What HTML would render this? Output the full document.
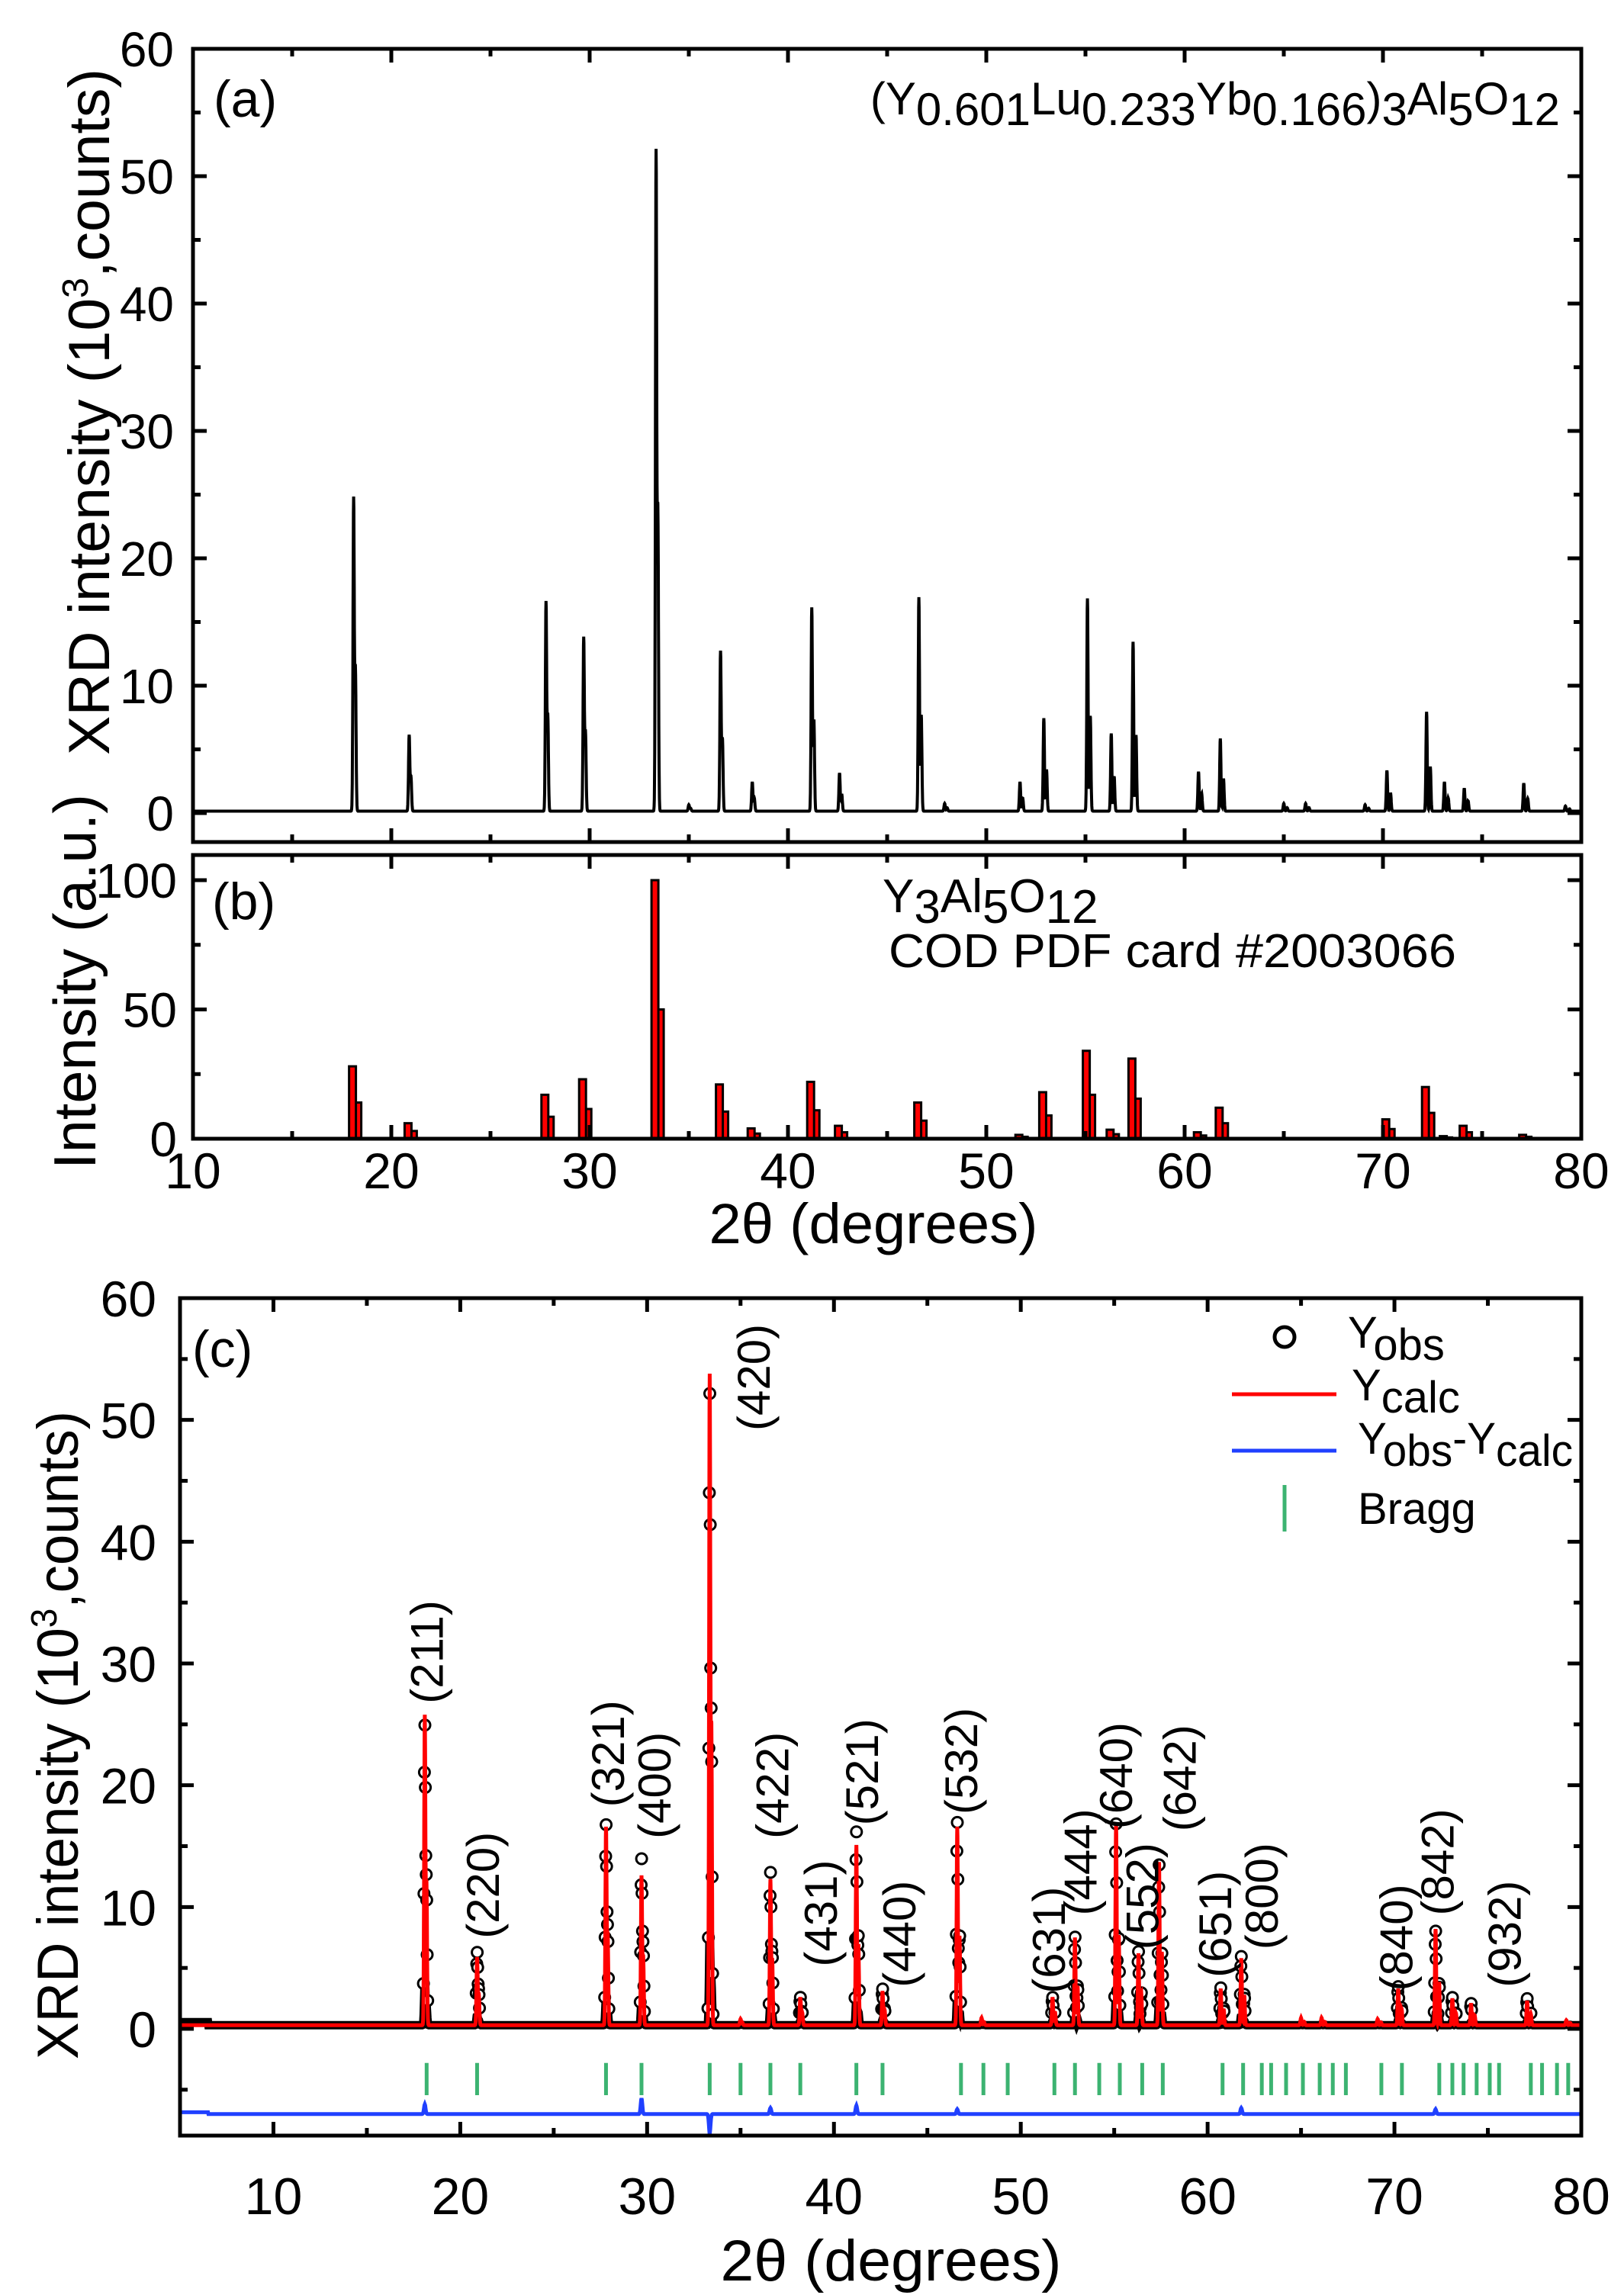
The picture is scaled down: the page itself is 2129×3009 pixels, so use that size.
<!DOCTYPE html>
<html><head><meta charset="utf-8"><style>
html,body{margin:0;padding:0;background:#fff}
svg{display:block}
text{font-family:"Liberation Sans",Arial,sans-serif;fill:#000}
</style></head><body>
<svg id="fig" xmlns="http://www.w3.org/2000/svg" width="2129" height="3009" viewBox="0 0 2129 3009">
<g id="pa"></g>
<g id="pb"></g>
<g id="pc"></g>
</svg>
<script>
// ---- data ----
const peakPos  = [18.1,20.9,27.8,29.7,33.35,35.0,36.6,38.2,41.2,42.6,46.6,47.9,51.7,52.9,55.1,56.3,57.4,60.7,61.8,65.0,66.1,69.1,70.2,72.2,73.1,74.1,77.1,79.2];
const peakObs  = [24.7,6.0,16.5,13.7,52.0,0.5,12.6,2.3,16.0,3.0,16.8,0.6,2.3,7.3,16.7,6.1,13.3,3.1,5.7,0.6,0.6,0.5,3.2,7.8,2.3,1.8,2.2,0.4];
const peakCalc = [25.5,5.6,16.3,12.3,53.5,0.5,12.0,2.3,14.8,2.8,16.3,0.6,2.3,7.2,16.5,5.9,13.4,3.0,5.5,0.6,0.6,0.5,3.0,7.9,2.2,1.8,2.0,0.4];
const cardPos  = [18.1,20.9,27.8,29.7,33.35,36.6,38.2,41.2,42.6,46.6,51.7,52.9,55.1,56.3,57.4,60.7,61.8,70.2,72.2,73.1,74.1,77.1];
const cardInt  = [28,6,17,23,100,21,4,22,5,14,1.5,18,34,3.5,31,2.5,12,7.5,20,1,5,1.5];
const braggPos = [18.2,20.9,27.8,29.7,33.35,35.0,36.6,38.2,41.2,42.6,46.8,48.0,49.3,51.8,52.9,54.2,55.3,56.5,57.6,60.8,61.9,62.9,63.4,64.2,65.1,66.0,66.7,67.4,69.3,70.4,72.4,73.1,73.7,74.4,75.1,75.6,77.3,77.9,78.7,79.3];
const diffPos  = [18.1,29.7,33.35,36.6,41.2,46.6,61.8,72.2];
const diffVal  = [0.8,1.3,-1.6,0.5,0.7,0.4,0.5,0.4];
const hklLabels= ["(211)","(220)","(321)","(400)","(420)","(422)","(431)","(440)","(521)","(532)","(631)","(444)","(640)","(552)","(642)","(651)","(800)","(840)","(842)","(932)"];
const hklX     = [18.2,21.2,27.9,30.4,35.7,36.7,39.3,43.5,41.5,46.8,51.5,53.2,55.1,56.5,58.5,60.4,62.9,70.1,72.3,75.9];
const hklY     = [26.7,7.4,18.2,15.6,49.1,15.6,5.1,3.4,16.7,17.6,2.9,9.3,16.4,6.5,16.2,4.2,6.5,3.1,9.3,3.4];
const tickA = ["0","10","20","30","40","50","60"];
const tickB = ["0","50","100"];
const tickX = ["10","20","30","40","50","60","70","80"];

const NS="http://www.w3.org/2000/svg";
function mk(parent,tag,attrs){const e=document.createElementNS(NS,tag);for(const k in attrs)e.setAttribute(k,attrs[k]);parent.appendChild(e);return e;}
function txt(parent,x,y,s,size,anchor,extra){const t=mk(parent,'text',Object.assign({x:x,y:y,'font-size':size,'text-anchor':anchor||'start'},extra||{}));t.textContent=s;return t;}

function profile(x,pos,h,w){let v=0;for(let i=0;i<pos.length;i++){const d=x-pos[i];if(Math.abs(d)>0.6)continue;const s=Math.max(pos[i]*0.0026,0.09);const norm=1+0.45*Math.exp(-(s/w)*(s/w));v+=h[i]*(Math.exp(-(d/w)*(d/w))+0.45*Math.exp(-((d-s)/w)*((d-s)/w)))/norm;}return v;}

function frame(g,L,R,T,B,X,Y,xmin,xmax,ymin,ymax,xstep,ystep,name){
  mk(g,'rect',{x:L,y:T,width:R-L,height:B-T,fill:'none',stroke:'#000','stroke-width':5,});
  for(let v=xmin;v<=xmax+1e-9;v+=xstep/2){const major=Math.abs((v/xstep)-Math.round(v/xstep))<1e-6;const len=major?18:10;const x=X(v);
    mk(g,'line',{x1:x,x2:x,y1:B,y2:B-len,stroke:'#000','stroke-width':5});
    mk(g,'line',{x1:x,x2:x,y1:T,y2:T+len,stroke:'#000','stroke-width':5});}
  for(let v=Math.ceil(ymin/(ystep/2))*(ystep/2);v<=ymax+1e-9;v+=ystep/2){const major=Math.abs((v/ystep)-Math.round(v/ystep))<1e-6;const len=major?18:10;const y=Y(v);
    mk(g,'line',{x1:L,x2:L+len,y1:y,y2:y,stroke:'#000','stroke-width':5});
    mk(g,'line',{x1:R,x2:R-len,y1:y,y2:y,stroke:'#000','stroke-width':5});}
}

// ---------- Panel A ----------
(function(){
  const g=document.getElementById('pa');
  const L=253,R=2073,T=64,B=1104, Y0=1066, per=(1066-64)/60;
  const X=v=>L+(v-10)*(R-L)/70, Y=v=>Y0-v*per;
  let d='';for(let x=10;x<=80;x+=0.01){const v=0.15+profile(x,peakPos,peakObs,0.045);d+=(d?'L':'M')+X(x).toFixed(1)+','+Y(v).toFixed(1);}
  const p=mk(g,'path',{d:d,fill:'none',stroke:'#000','stroke-width':4});
  
  
  frame(g,L,R,T,B,X,Y,10,80,-4.3,60,10,10,'panel-a');
  tickA.forEach((s,i)=>{const t=txt(g,228,Y(+s)+23,s,64,'end');});
  const yt=txt(g,0,0,'',76,'middle',{transform:'translate(143,540) rotate(-90)',textLength:900,lengthAdjust:'spacingAndGlyphs'});
  yt.innerHTML='XRD intensity (10<tspan dy="-28" font-size="48">3</tspan><tspan dy="28">,counts)</tspan>';
  txt(g,280,153,'(a)',68,'start',{});
  const f=txt(g,2045,150,'',60,'end',{});
  f.innerHTML='(Y<tspan dy="14">0.601</tspan><tspan dy="-14">Lu</tspan><tspan dy="14">0.233</tspan><tspan dy="-14">Yb</tspan><tspan dy="14">0.166</tspan><tspan dy="-14">)</tspan><tspan dy="14">3</tspan><tspan dy="-14">Al</tspan><tspan dy="14">5</tspan><tspan dy="-14">O</tspan><tspan dy="14">12</tspan>';
})();

// ---------- Panel B ----------
(function(){
  const g=document.getElementById('pb');
  const L=253,R=2073,T=1121,B=1493, Y0=1493, per=(1493-1154)/100;
  const X=v=>L+(v-10)*(R-L)/70, Y=v=>Y0-v*per;
  cardPos.forEach((p,i)=>{
    const x=X(p), h=cardInt[i];
    const r2=mk(g,'rect',{x:x+1,y:Y(h/2),width:9,height:Y0-Y(h/2),fill:'#ff0000',stroke:'#000','stroke-width':3});
    
    
    const r=mk(g,'rect',{x:x-6,y:Y(h),width:9,height:Y0-Y(h),fill:'#ff0000',stroke:'#000','stroke-width':3});
    
    
  });
  frame(g,L,R,T,B,X,Y,10,80,0,110,10,50,'panel-b');
  tickB.forEach(s=>{const t=txt(g,232,Y(+s)+23,s,64,'end');});
  tickX.forEach(s=>{const t=txt(g,X(+s),1558,s,66,'middle');});
  txt(g,0,0,'Intensity (a.u.)',78,'middle',{transform:'translate(125,1287) rotate(-90)',textLength:492,lengthAdjust:'spacingAndGlyphs'});
  txt(g,1145,1630,'2θ (degrees)',74,'middle',{textLength:431,lengthAdjust:'spacingAndGlyphs'});
  txt(g,278,1205,'(b)',68,'start',{});
  const f=txt(g,1157,1196,'',62,'start',{});
  f.innerHTML='Y<tspan dy="14">3</tspan><tspan dy="-14">Al</tspan><tspan dy="14">5</tspan><tspan dy="-14">O</tspan><tspan dy="14">12</tspan>';
  txt(g,1165,1268,'COD PDF card #2003066',62,'start',{textLength:744,lengthAdjust:'spacingAndGlyphs'});
})();

// ---------- Panel C ----------
(function(){
  const g=document.getElementById('pc');
  const L=236,R=2073,T=1702,B=2800, Y0=2660, per=(2660-1702)/60;
  const X=v=>L+(v-5)*(R-L)/75, Y=v=>Y0-v*per;
  let d='';for(let x=5;x<=80;x+=0.02){const v=0.3+(x<6.5?0.25:0)+profile(x,peakPos,peakObs,0.05)*0.15;d+=(d?'L':'M')+X(x).toFixed(1)+','+Y(v).toFixed(1);}
  const ob=mk(g,'path',{d:d,fill:'none',stroke:'#000','stroke-width':11});
  
  
  const cg=mk(g,'g',{});
  for(let i=0;i<peakPos.length;i++){
    for(let x=peakPos[i]-0.12;x<=peakPos[i]+0.22;x+=0.025){
      const v=profile(x,peakPos,peakObs,0.05);
      if(v<0.9)continue;
      const c=mk(cg,'circle',{cx:X(x).toFixed(1),cy:Y(v+0.3).toFixed(1),r:7,fill:'#fff',stroke:'#000','stroke-width':3});
      
      
    }
  }
  d='';for(let x=5;x<=80;x+=0.01){const v=0.3+profile(x,peakPos,peakCalc,0.045);d+=(d?'L':'M')+X(x).toFixed(1)+','+Y(v).toFixed(1);}
  const cl=mk(g,'path',{d:d,fill:'none',stroke:'#ff0000','stroke-width':5});
  
  
  braggPos.forEach(p=>{const l=mk(g,'line',{x1:X(p),x2:X(p),y1:Y(-2.8),y2:Y(-5.45),stroke:'#3cb371','stroke-width':5});
    
    });
  d='';for(let x=5;x<=80;x+=0.02){let v=-7.0+(x<6.5?0.15:0);for(let i=0;i<diffPos.length;i++){const q=(x-diffPos[i])/0.06;v+=diffVal[i]*Math.exp(-q*q);}d+=(d?'L':'M')+X(x).toFixed(1)+','+Y(v).toFixed(1);}
  const df=mk(g,'path',{d:d,fill:'none',stroke:'#2040ff','stroke-width':5});
  
  
  frame(g,L,R,T,B,X,Y,5,80,-8.7,60,10,10,'panel-c');
  ["0","10","20","30","40","50","60"].forEach(s=>{const t=txt(g,205,Y(+s)+24,s,66,'end');});
  tickX.forEach(s=>{const t=txt(g,X(+s),2903,s,68,'middle');});
  const yt=txt(g,0,0,'',76,'middle',{transform:'translate(102,2275) rotate(-90)',textLength:850,lengthAdjust:'spacingAndGlyphs'});
  yt.innerHTML='XRD intensity (10<tspan dy="-28" font-size="48">3</tspan><tspan dy="28">,counts)</tspan>';
  txt(g,1168,2990,'2θ (degrees)',76,'middle',{textLength:447,lengthAdjust:'spacingAndGlyphs'});
  txt(g,252,1792,'(c)',68,'start',{});
  hklLabels.forEach((s,i)=>{const x=X(hklX[i])+21,y=Y(hklY[i]);
    const t=txt(g,0,0,s,60,'start',{transform:'translate('+x.toFixed(1)+','+y.toFixed(1)+') rotate(-90)'});
    
    });
  const lg=mk(g,'g',{});
  mk(lg,'circle',{cx:1684,cy:1753,r:13,fill:'#fff',stroke:'#000','stroke-width':5,});
  const t1=txt(lg,1767,1767,'',58,'start',{});t1.innerHTML='Y<tspan dy="16">obs</tspan>';
  mk(lg,'line',{x1:1615,x2:1752,y1:1828,y2:1828,stroke:'#ff0000','stroke-width':5,});
  const t2=txt(lg,1772,1836,'',58,'start',{});t2.innerHTML='Y<tspan dy="16">calc</tspan>';
  mk(lg,'line',{x1:1615,x2:1752,y1:1902,y2:1902,stroke:'#2040ff','stroke-width':5,});
  const t3=txt(lg,1780,1906,'',58,'start',{textLength:282,lengthAdjust:'spacingAndGlyphs'});t3.innerHTML='Y<tspan dy="16">obs</tspan><tspan dy="-16">-Y</tspan><tspan dy="16">calc</tspan>';
  mk(lg,'line',{x1:1684,x2:1684,y1:1947,y2:2008,stroke:'#3cb371','stroke-width':5,});
  txt(lg,1780,1998,'Bragg',58,'start',{});
})();
</script>
</body></html>
